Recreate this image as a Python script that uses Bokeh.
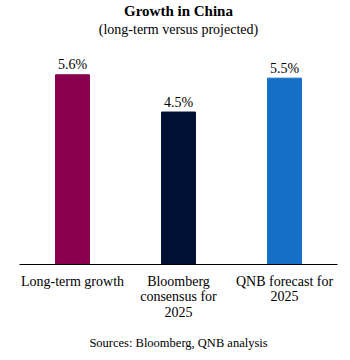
from bokeh.plotting import figure
from bokeh.models import Range1d, Title, ColumnDataSource
from bokeh.core.properties import value
from bokeh.embed import file_html
from bokeh.resources import INLINE

categories = ["Long-term growth", "Bloomberg\nconsensus for\n2025", "QNB forecast for\n2025"]
values = [5.6, 4.5, 5.5]
labels = ["5.6%", "4.5%", "5.5%"]
colors = ["#8A004F", "#001035", "#1570C5"]

FONT = "Liberation Serif"

src = ColumnDataSource(dict(cat=categories, val=values, lab=labels, col=colors))

p = figure(width=350, height=360, x_range=categories, y_range=Range1d(0, 6.7),
           output_backend="svg", toolbar_location=None,
           min_border_left=19, min_border_right=13, min_border_bottom=95,
           min_border_top=0,
           outline_line_color=None, background_fill_color="white")

p.vbar(x="cat", top="val", width=0.32, color="col", source=src)
p.text(x="cat", y="val", text="lab", source=src, text_align="center",
       text_baseline="alphabetic", y_offset=-10, text_font=value(FONT),
       text_font_size="14px", text_color="black")

p.yaxis.visible = False
p.xgrid.visible = False
p.ygrid.visible = False
p.xaxis.major_tick_line_color = None
p.xaxis.minor_tick_line_color = None
p.xaxis.axis_line_color = "black"
p.xaxis.axis_line_width = 1
p.xaxis.major_label_text_font = FONT
p.xaxis.major_label_text_font_size = "14px"
p.xaxis.major_label_text_color = "black"
p.xaxis.major_label_text_line_height = 1.05
p.xaxis.major_label_standoff = 3

p.add_layout(Title(text="Sources: Bloomberg, QNB analysis", align="center",
                   text_font=FONT, text_font_size="12.5px", text_font_style="normal",
                   text_color="black", standoff=21), "below")
p.add_layout(Title(text="(long-term versus projected)", align="center",
                   text_font=FONT, text_font_size="14px", text_font_style="normal",
                   text_color="black", standoff=2), "above")
p.add_layout(Title(text="Growth in China", align="center",
                   text_font=FONT, text_font_size="15px", text_font_style="bold",
                   text_color="black", standoff=0), "above")

open("out.html", "w").write(file_html(p, INLINE))
